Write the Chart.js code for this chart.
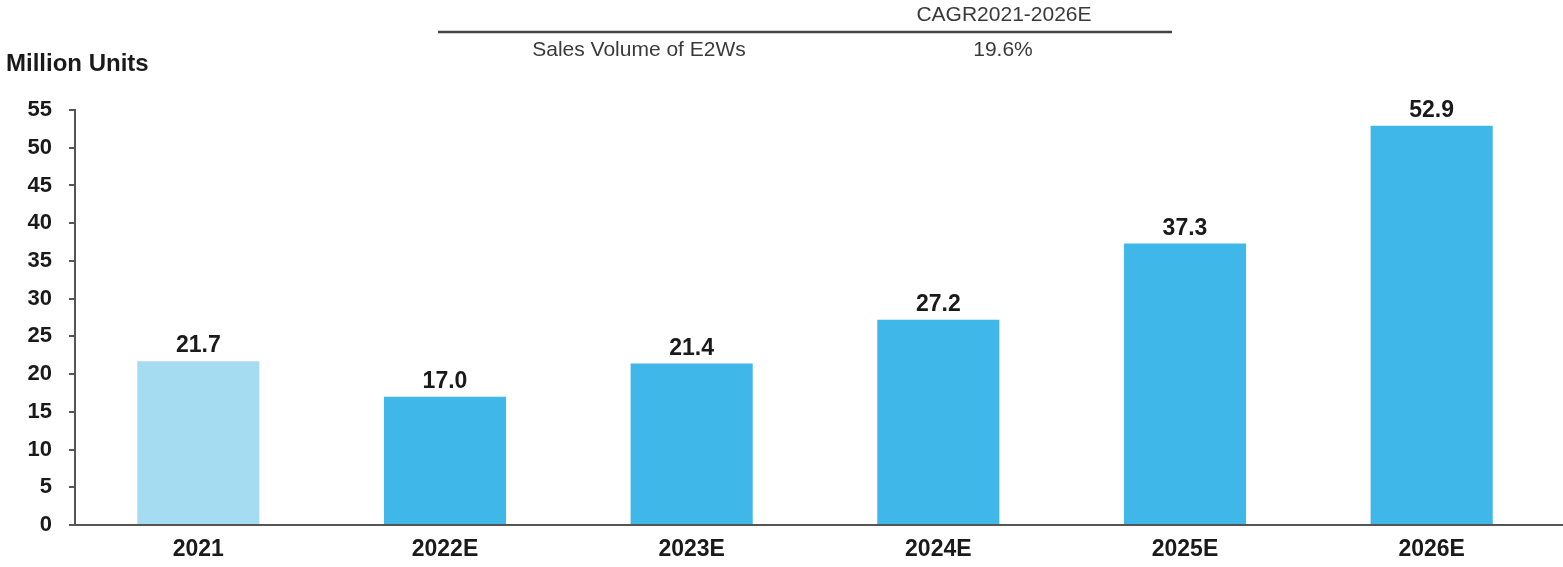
<!DOCTYPE html>
<html>
<head>
<meta charset="utf-8">
<script src="https://cdn.jsdelivr.net/npm/chart.js@4/dist/chart.umd.min.js"></script>
<style>
html,body{margin:0;padding:0;background:#fff;}
#wrap{width:1563px;height:567px;position:relative;}
</style>
</head>
<body>
<div id="wrap"><canvas id="c" width="1563" height="567"></canvas></div>
<script>
const categories = ["2021", "2022E", "2023E", "2024E", "2025E", "2026E"];
const salesVolume = [21.7, 17.0, 21.4, 27.2, 37.3, 52.9];
const yTicks = [0, 5, 10, 15, 20, 25, 30, 35, 40, 45, 50, 55];
const unitLabel = "Million Units";
const cagrHeader = "CAGR2021-2026E";
const cagrRowLabel = "Sales Volume of E2Ws";
const cagrValue = "19.6%";

const barColors = categories.map((c, i) => i === 0 ? "#a6dcf1" : "#3fb7e9");
const FONT = "'Liberation Sans', Arial, sans-serif";

const overlay = {
  id: "overlay",
  afterDraw(chart) {
    const ctx = chart.ctx;
    const y = chart.scales.y;
    ctx.save();
    // extend x axis line to the right edge
    ctx.strokeStyle = "#555";
    ctx.lineWidth = 2;
    ctx.beginPath();
    ctx.moveTo(chart.chartArea.left, y.getPixelForValue(0));
    ctx.lineTo(chart.width, y.getPixelForValue(0));
    ctx.stroke();
    // data labels
    ctx.fillStyle = "#1a1a1a";
    ctx.font = "bold 23px " + FONT;
    ctx.textAlign = "center";
    ctx.textBaseline = "alphabetic";
    const meta = chart.getDatasetMeta(0);
    meta.data.forEach((bar, i) => {
      ctx.fillText(salesVolume[i].toFixed(1), bar.x, bar.y - 9);
    });
    // unit label
    ctx.textAlign = "left";
    ctx.textBaseline = "middle";
    ctx.font = "bold 24px " + FONT;
    ctx.fillText(unitLabel, 6, 64);
    // CAGR table
    ctx.fillStyle = "#3a3a3a";
    ctx.font = "21px " + FONT;
    ctx.textAlign = "center";
    ctx.fillText(cagrHeader, 1004, 15);
    ctx.fillText(cagrRowLabel, 639, 50);
    ctx.fillText(cagrValue, 1003, 50);
    ctx.strokeStyle = "#444";
    ctx.lineWidth = 2.5;
    ctx.beginPath();
    ctx.moveTo(438, 32);
    ctx.lineTo(1172, 32);
    ctx.stroke();
    ctx.restore();
  }
};

new Chart(document.getElementById("c"), {
  type: "bar",
  data: {
    labels: categories,
    datasets: [{
      data: salesVolume,
      backgroundColor: barColors,
      borderWidth: 0,
      barPercentage: 0.495,
      categoryPercentage: 1.0
    }]
  },
  options: {
    responsive: false,
    animation: false,
    layout: { padding: { top: 110, right: 8, left: 0, bottom: 0 } },
    plugins: { legend: { display: false }, tooltip: { enabled: false } },
    scales: {
      x: {
        grid: { display: false },
        border: { display: true, color: "#555", width: 2 },
        ticks: {
          color: "#1a1a1a",
          font: { family: FONT, size: 23, weight: "bold" },
          padding: 3
        },
        afterFit(s) { s.height = 42; }
      },
      y: {
        min: 0, max: 55,
        afterBuildTicks(s) { s.ticks = yTicks.map(v => ({ value: v })); },
        grid: { drawOnChartArea: false, drawTicks: true, tickLength: 6, color: "#555", lineWidth: 2 },
        border: { display: true, color: "#555", width: 2 },
        ticks: {
          color: "#1a1a1a",
          font: { family: FONT, size: 22, weight: "bold" },
          padding: 17
        },
        afterFit(s) { s.width = 75; }
      }
    }
  },
  plugins: [overlay]
});
</script>
</body>
</html>
